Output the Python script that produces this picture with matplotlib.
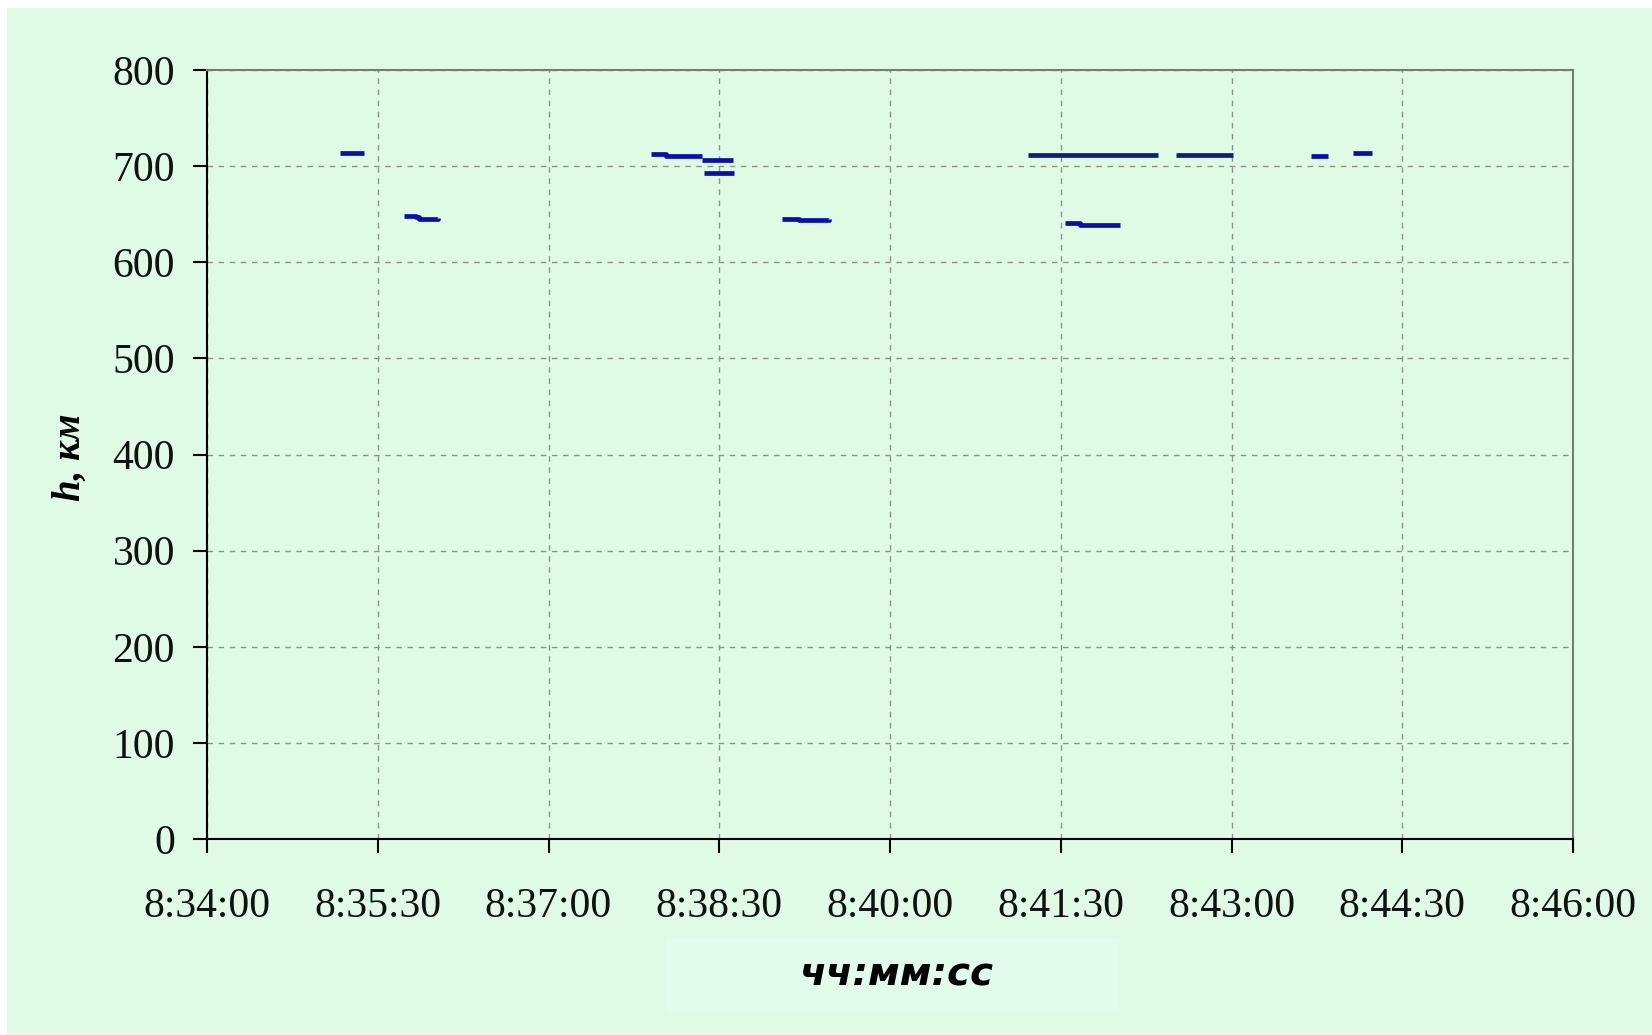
import matplotlib
matplotlib.use("Agg")
import matplotlib.pyplot as plt
from matplotlib.patches import Rectangle
from matplotlib.ticker import FuncFormatter

# ---------------------------------------------------------------
#  heights of the layer (km) vs. time, short tracked segments
# ---------------------------------------------------------------
SEG_TIMES = [
    ["8:35:10", "8:35:23"],
    ["8:35:44", "8:35:50", "8:35:52", "8:36:02"],
    ["8:37:54", "8:38:02", "8:38:21"],
    ["8:38:21", "8:38:37"],
    ["8:38:22", "8:38:38"],
    ["8:39:03", "8:39:12", "8:39:20", "8:39:28"],
    ["8:41:13", "8:42:21"],
    ["8:42:31", "8:43:01"],
    ["8:41:32", "8:41:40", "8:42:01"],
    ["8:43:42", "8:43:51"],
    ["8:44:04", "8:44:14"],
]
SEG_HEIGHTS = [
    [714, 714],
    [648, 647, 645, 646],
    [713, 711, 711],
    [706, 706],
    [693, 693],
    [645, 644, 644, 645],
    [712, 712],
    [712, 712],
    [641, 639, 639],
    [711, 711],
    [714, 714],
]
DARK_SEGMENTS = [6, 7]

X_TICKS = ["8:34:00", "8:35:30", "8:37:00", "8:38:30", "8:40:00",
           "8:41:30", "8:43:00", "8:44:30", "8:46:00"]
Y_TICKS = [0, 100, 200, 300, 400, 500, 600, 700, 800]

BG = "#dffbe6"


def to_sec(s):
    h, m, sec = (int(v) for v in s.split(":"))
    return h * 3600 + m * 60 + sec


def fmt_time(x, pos):
    x = int(round(x))
    return f"{x // 3600}:{(x % 3600) // 60:02d}:{x % 60:02d}"


fig = plt.figure(figsize=(16.52, 10.35), dpi=100)
fig.patch.set_facecolor("white")
fig.patches.append(Rectangle((7 / 1652, 0), 1, 1 - 8 / 1035,
                             transform=fig.transFigure, facecolor=BG,
                             edgecolor="none", zorder=-10))

ax = fig.add_axes([207 / 1652, 1 - 839 / 1035, 1366 / 1652, 769 / 1035])
ax.set_facecolor(BG)

for i, (ts, hs) in enumerate(zip(SEG_TIMES, SEG_HEIGHTS)):
    color = "#0d1f7c" if i in DARK_SEGMENTS else "#0a0fa8"
    ax.plot([to_sec(t) for t in ts], hs, color=color, lw=3.4,
            drawstyle="steps-post", solid_capstyle="butt", zorder=3)

xt = [to_sec(t) for t in X_TICKS]
ax.set_xlim(xt[0], xt[-1])
ax.set_ylim(0, 800)
ax.set_xticks(xt)
ax.xaxis.set_major_formatter(FuncFormatter(fmt_time))
ax.set_yticks(Y_TICKS)

ax.grid(True, color="#8a948c", linestyle=(0, (4, 4)), lw=1.0)
ax.set_axisbelow(True)

for side in ["left", "bottom"]:
    ax.spines[side].set_color("black")
    ax.spines[side].set_linewidth(1.5)
for side in ["top", "right"]:
    ax.spines[side].set_color("#6f7f70")
    ax.spines[side].set_linewidth(1.5)

ax.tick_params(direction="out", length=10, width=1.5, color="black",
               labelsize=30)
ax.tick_params(axis="x", pad=25)
ax.tick_params(axis="y", pad=13)
for lab in ax.get_xticklabels() + ax.get_yticklabels():
    lab.set_fontfamily("Liberation Serif")
    lab.set_color("#111111")

fig.text(70 / 1652, 1 - 457 / 1035, "h, км", rotation=90, ha="center",
         va="center", fontsize=28, fontfamily="Liberation Serif",
         fontweight="bold", fontstyle="italic")

fig.patches.append(Rectangle((666 / 1652, 1 - 1012 / 1035), 453 / 1652,
                             74 / 1035, transform=fig.transFigure,
                             facecolor="#e1fcea", edgecolor="none",
                             zorder=-5))
fig.text(897 / 1652, 1 - 975 / 1035, "чч:мм:сс", ha="center", va="center",
         fontsize=28, fontfamily="DejaVu Sans", fontweight="bold",
         fontstyle="italic")

fig.savefig("out.png", dpi=100, facecolor=fig.get_facecolor())
